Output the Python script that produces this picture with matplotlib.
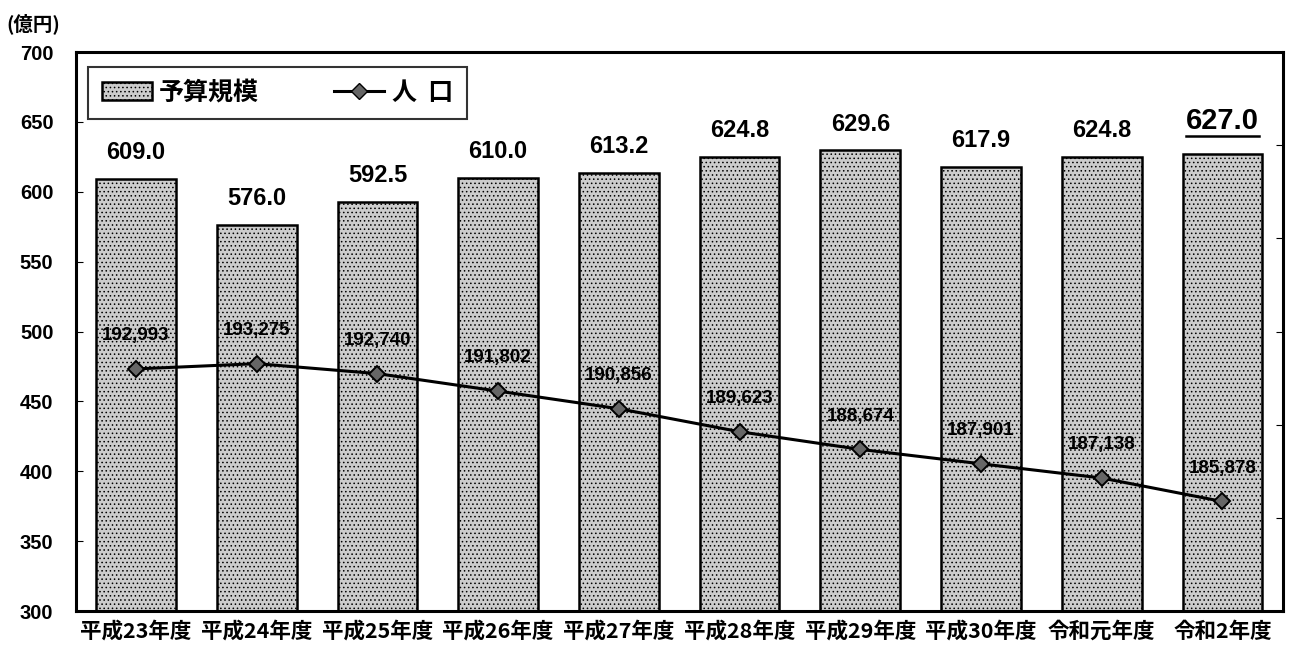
import matplotlib
matplotlib.use('Agg')
import matplotlib.pyplot as plt
from matplotlib.lines import Line2D
from matplotlib.patches import Patch

plt.rcParams['font.family'] = ['Liberation Sans', 'Noto Sans CJK JP', 'DejaVu Sans']
plt.rcParams['hatch.linewidth'] = 0.6
plt.rcParams['hatch.color'] = '#555555'

years = ['平成23年度', '平成24年度', '平成25年度', '平成26年度', '平成27年度',
         '平成28年度', '平成29年度', '平成30年度', '令和元年度', '令和2年度']
budget = [609.0, 576.0, 592.5, 610.0, 613.2, 624.8, 629.6, 617.9, 624.8, 627.0]
population = [192993, 193275, 192740, 191802, 190856, 189623, 188674, 187901, 187138, 185878]

fig = plt.figure(figsize=(13.05, 6.47), dpi=100)
ax = fig.add_axes([0.058, 0.0556, 0.925, 0.864])
x = list(range(len(years)))

ax.bar(x, [b - 300 for b in budget], bottom=300, width=0.66,
       color='#cccccc', edgecolor='black', linewidth=1.8, hatch='....', zorder=2)
ax.set_ylim(300, 700)
ax.set_xlim(-0.5, len(years) - 0.5)
ax.set_yticks(range(300, 701, 50))
ax.tick_params(axis='y', direction='in', length=5, labelsize=14.5, pad=16)
ax.tick_params(axis='x', length=0, labelsize=15.5, pad=7)
ax.set_xticks(x)
ax.set_xticklabels(years, family=['Noto Sans CJK JP'], fontweight='bold')
for lab in ax.get_yticklabels():
    lab.set_fontweight('bold')
for s in ax.spines.values():
    s.set_linewidth(2.2)

# 予算規模 labels above bars (last one larger and underlined)
for i, b in enumerate(budget):
    if i == len(budget) - 1:
        continue
    ax.annotate(f'{b:.1f}', (i, b), xytext=(0, 19), textcoords='offset points',
                ha='center', va='center', fontsize=17, fontweight='bold')
last = ax.annotate(f'{budget[-1]:.1f}', (x[-1], budget[-1]), xytext=(0, 24),
                   textcoords='offset points', ha='center', va='center',
                   fontsize=21, fontweight='bold')

# population on a hidden secondary axis
ax2 = ax.twinx()
ax2.set_ylim(180000, 210000)
ax2.set_yticks(range(180000, 210001, 5000))
ax2.tick_params(axis='y', direction='in', length=5, labelright=False)
ax2.plot(x, population, color='black', linewidth=2.2, marker='D', markersize=8,
         markerfacecolor='#666666', markeredgecolor='black', markeredgewidth=1.4, zorder=3)
for i, p in enumerate(population):
    ax2.annotate(f'{p:,}', (i, p), xytext=(0, 24), textcoords='offset points',
                 ha='center', va='center', fontsize=13.5, fontweight='bold')

fig.text(0.005, 0.964, '(億円)', family=['Noto Sans CJK JP'], fontsize=14,
         fontweight='bold', va='center')

handles = [Patch(facecolor='#cccccc', edgecolor='black', hatch='....', linewidth=1.8),
           Line2D([0], [0], color='black', linewidth=2.2, marker='D', markersize=8,
                  markerfacecolor='#666666', markeredgecolor='black')]
leg = ax.legend(handles, ['予算規模', '人  口'], loc='upper left', ncol=2,
                bbox_to_anchor=(0.01, 0.973), borderaxespad=0, frameon=True, fancybox=False,
                edgecolor='black', prop={'family': 'Noto Sans CJK JP', 'weight': 'bold', 'size': 18},
                handlelength=2.0, handletextpad=0.3, columnspacing=3.0, borderpad=0.55)
leg.get_frame().set_linewidth(1.5)

fig.canvas.draw()
bb = last.get_window_extent()
fig.add_artist(Line2D([bb.x0, bb.x1], [bb.y0 - 1, bb.y0 - 1], color='black',
                      linewidth=1.8, transform=None))

fig.savefig('out.png', dpi=100)
